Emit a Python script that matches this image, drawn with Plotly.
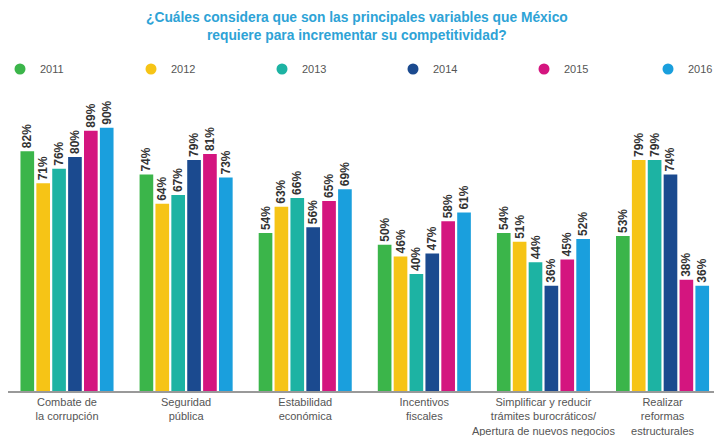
import plotly.graph_objects as go

categories = [
    "Combate de<br>la corrupción",
    "Seguridad<br>pública",
    "Estabilidad<br>económica",
    "Incentivos<br>fiscales",
    "Simplificar y reducir<br>trámites burocráticos/<br>Apertura de nuevos negocios",
    "Realizar<br>reformas<br>estructurales",
]
years = ["2011", "2012", "2013", "2014", "2015", "2016"]
values = {
    "2011": [82, 74, 54, 50, 54, 53],
    "2012": [71, 64, 63, 46, 51, 79],
    "2013": [76, 67, 66, 40, 44, 79],
    "2014": [80, 79, 56, 47, 36, 74],
    "2015": [89, 81, 65, 58, 45, 38],
    "2016": [90, 73, 69, 61, 52, 36],
}
colors = ["#3bb54a", "#f6c416", "#1db3a3", "#1b4a8f", "#d4157f", "#1a9fdd"]

title_text = "¿Cuáles considera que son las principales variables que México<br>requiere para incrementar su competitividad?"

fig = go.Figure()
for yr, col in zip(years, colors):
    vals = values[yr]
    fig.add_trace(go.Bar(
        x=categories, y=vals, name=yr,
        marker=dict(color=col, line=dict(width=0)),
        text=[f"{v}%" for v in vals],
        textposition="outside", textangle=-90, constraintext="none",
        textfont=dict(family="Arial", size=12, color="#333333", weight="bold"),
        cliponaxis=False,
        showlegend=False,
    ))
for i, (yr, col) in enumerate(zip(years, colors)):
    fig.add_trace(go.Scatter(
        x=[None], y=[None], mode="markers", name=yr,
        marker=dict(color=col, size=11, symbol="circle"),
        showlegend=True,
        legend="legend" if i < 5 else "legend2",
    ))

fig.add_annotation(
    text=title_text, xref="paper", yref="paper", x=0.494, y=1.252,
    xanchor="center", yanchor="middle", showarrow=False, align="center",
    font=dict(family="Arial", size=13.8, color="#2ea3d6", weight="bold"),
)

legend_common = dict(orientation="h", xref="container", yref="container",
                     yanchor="middle", y=1 - 69 / 436,
                     entrywidth=86, entrywidthmode="pixels",
                     font=dict(family="Arial", size=11, color="#555555"),
                     bgcolor="rgba(0,0,0,0)", traceorder="normal")

fig.update_layout(
    width=714, height=436,
    paper_bgcolor="white", plot_bgcolor="white",
    margin=dict(l=8, r=0, t=100, b=45),
    barmode="group", bargap=0.2, bargroupgap=0.14,
    legend=dict(legend_common, x=-16 / 714, xanchor="left"),
    legend2=dict(legend_common, x=648 / 714, xanchor="left"),
    font=dict(family="Arial"),
    showlegend=True,
)
fig.update_xaxes(range=[-0.4954, 5.432], showline=True, linecolor="#999999", linewidth=1.5,
                 ticks="", showgrid=False, automargin=False,
                 tickfont=dict(family="Arial", size=11, color="#555555"))
fig.update_yaxes(range=[0, 99.5], visible=False, showgrid=False, automargin=False)

fig.write_html("out.html", config={"displayModeBar": False},
               post_script="document.body.style.margin='0';document.body.style.overflow='hidden';")
